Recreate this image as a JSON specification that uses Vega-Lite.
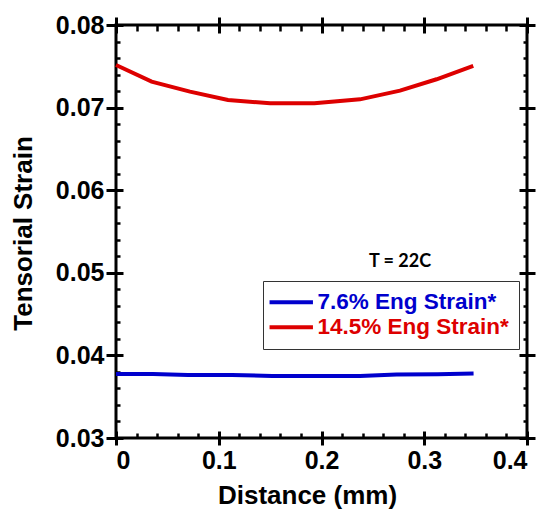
{
  "$schema": "https://vega.github.io/schema/vega-lite/v6.json",
  "width": 411,
  "height": 413,
  "autosize": {"type": "none"},
  "padding": {"left": 116, "top": 25, "right": 20, "bottom": 74},
  "background": "white",
  "config": {
    "view": {"stroke": "black", "strokeWidth": 3},
    "font": "Liberation Sans",
    "axis": {
      "domain": false,
      "grid": false,
      "tickColor": "black",
      "tickWidth": 3,
      "labelColor": "black",
      "titleColor": "black",
      "labelFont": "Liberation Sans",
      "labelFontWeight": "bold",
      "labelFontSize": 25,
      "titleFont": "Liberation Sans",
      "titleFontWeight": "bold",
      "titleFontSize": 26
    }
  },
  "datasets": {
    "strain": [
      {"series": "14.5% Eng Strain*", "distance": 0, "strain": 0.07516},
      {"series": "14.5% Eng Strain*", "distance": 0.0347, "strain": 0.07314},
      {"series": "14.5% Eng Strain*", "distance": 0.072, "strain": 0.07193},
      {"series": "14.5% Eng Strain*", "distance": 0.109, "strain": 0.07092},
      {"series": "14.5% Eng Strain*", "distance": 0.15, "strain": 0.07052},
      {"series": "14.5% Eng Strain*", "distance": 0.193, "strain": 0.07052},
      {"series": "14.5% Eng Strain*", "distance": 0.2375, "strain": 0.071},
      {"series": "14.5% Eng Strain*", "distance": 0.2764, "strain": 0.07205},
      {"series": "14.5% Eng Strain*", "distance": 0.312, "strain": 0.07343},
      {"series": "14.5% Eng Strain*", "distance": 0.3477, "strain": 0.07504},
      {"series": "7.6% Eng Strain*", "distance": 0, "strain": 0.03775},
      {"series": "7.6% Eng Strain*", "distance": 0.036, "strain": 0.03775},
      {"series": "7.6% Eng Strain*", "distance": 0.07, "strain": 0.03763},
      {"series": "7.6% Eng Strain*", "distance": 0.113, "strain": 0.03763},
      {"series": "7.6% Eng Strain*", "distance": 0.152, "strain": 0.0375},
      {"series": "7.6% Eng Strain*", "distance": 0.193, "strain": 0.0375},
      {"series": "7.6% Eng Strain*", "distance": 0.2375, "strain": 0.0375},
      {"series": "7.6% Eng Strain*", "distance": 0.273, "strain": 0.0377},
      {"series": "7.6% Eng Strain*", "distance": 0.313, "strain": 0.03771},
      {"series": "7.6% Eng Strain*", "distance": 0.348, "strain": 0.0378}
    ],
    "note": [{"text": "T = 22C", "distance": 0.2764, "strain": 0.0513}]
  },
  "layer": [
    {
      "data": {"name": "strain"},
      "mark": {"type": "point", "opacity": 0},
      "encoding": {
        "x": {"field": "distance", "type": "quantitative",
          "scale": {"domain": [0, 0.4], "nice": false, "zero": false},
          "axis": {"orient": "bottom", "title": null, "labels": false, "values": [0.02,0.04,0.06,0.08,0.12,0.14,0.16,0.18,0.22,0.24,0.26,0.28,0.32,0.34,0.36,0.38], "tickSize": -5, "tickWidth": 2.5}},
        "y": {"field": "strain", "type": "quantitative",
          "scale": {"domain": [0.03, 0.08], "nice": false, "zero": false},
          "axis": {"orient": "left", "title": null, "labels": false, "values": [0.032,0.034,0.036,0.038,0.042,0.044,0.046,0.048,0.052,0.054,0.056,0.058,0.062,0.064,0.066,0.068,0.072,0.074,0.076,0.078], "tickSize": -4, "tickWidth": 2.5}}
      }
    },
    {
      "data": {"name": "strain"},
      "mark": {"type": "point", "opacity": 0},
      "encoding": {
        "x": {"field": "distance", "type": "quantitative",
          "axis": {"orient": "top", "title": null, "labels": false, "values": [0.02,0.04,0.06,0.08,0.12,0.14,0.16,0.18,0.22,0.24,0.26,0.28,0.32,0.34,0.36,0.38], "tickSize": -6, "tickWidth": 2.5}},
        "y": {"field": "strain", "type": "quantitative",
          "axis": {"orient": "right", "title": null, "labels": false, "values": [0.032,0.034,0.036,0.038,0.042,0.044,0.046,0.048,0.052,0.054,0.056,0.058,0.062,0.064,0.066,0.068,0.072,0.074,0.076,0.078], "tickSize": -4, "tickWidth": 2.5}}
      }
    },
    {
      "data": {"name": "strain"},
      "mark": {"type": "point", "opacity": 0},
      "encoding": {
        "x": {"field": "distance", "type": "quantitative",
          "axis": {"orient": "top", "title": null, "labels": false, "values": [0, 0.1, 0.2, 0.3, 0.4], "offset": -8, "tickSize": 16}},
        "y": {"field": "strain", "type": "quantitative",
          "axis": {"orient": "right", "title": null, "labels": false, "values": [0.03, 0.04, 0.05, 0.06, 0.07, 0.08], "offset": -8, "tickSize": 16}}
      }
    },
    {
      "data": {"name": "strain"},
      "mark": {"type": "line", "strokeWidth": 4},
      "encoding": {
        "x": {"field": "distance", "type": "quantitative",
          "axis": {"orient": "bottom", "title": "Distance (mm)", "values": [0, 0.1, 0.2, 0.3, 0.4],
            "labelExpr": "datum.value == 0 ? '0' : format(datum.value, '.1f')",
            "offset": -7, "tickSize": 14, "labelPadding": 3, "titlePadding": 9, "titleX": 191}},
        "y": {"field": "strain", "type": "quantitative",
          "axis": {"orient": "left", "title": "Tensorial Strain", "values": [0.03, 0.04, 0.05, 0.06, 0.07, 0.08],
            "format": ".2f", "offset": -7, "tickSize": 17, "labelPadding": 2, "titlePadding": 19, "titleY": 208}},
        "color": {"field": "series", "type": "nominal",
          "scale": {"domain": ["7.6% Eng Strain*", "14.5% Eng Strain*"], "range": ["#0000cd", "#dd0000"]},
          "legend": {
            "title": null, "orient": "none", "legendX": 147, "legendY": 256,
            "padding": 10, "strokeColor": "#333333", "fillColor": "white",
            "symbolType": "M-3.1,0H3.1", "symbolSize": 196, "symbolStrokeWidth": 4,
            "symbolOffset": 7, "labelOffset": 15,
            "labelFont": "Liberation Sans", "labelFontWeight": "bold", "labelFontSize": 22.5,
            "labelLimit": 400, "rowPadding": 2,
            "encode": {"labels": {"update": {"fill": {"signal": "datum.value === '7.6% Eng Strain*' ? '#0000cd' : '#dd0000'"}}}}
          }}
      }
    },
    {
      "data": {"name": "note"},
      "mark": {"type": "text", "font": "Lato", "fontWeight": "bold", "fontSize": 18, "color": "black", "align": "center", "baseline": "middle"},
      "encoding": {
        "x": {"field": "distance", "type": "quantitative", "axis": null},
        "y": {"field": "strain", "type": "quantitative", "axis": null},
        "text": {"field": "text"}
      }
    }
  ],
  "resolve": {"axis": {"x": "independent", "y": "independent"}}
}
